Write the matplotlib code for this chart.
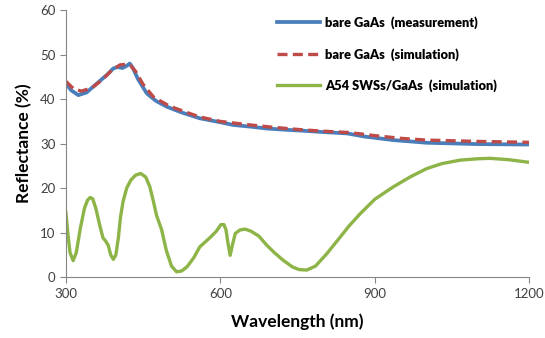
import matplotlib.pyplot as plt

plt.rcParams['font.family'] = ['Lato', 'DejaVu Sans']

# bare GaAs (measurement)
wl_meas = [300, 310, 324, 340, 360, 380, 392, 400, 410, 418, 424, 430, 440, 457, 475,
           496, 525, 560, 600, 625, 660, 690, 730, 761, 800, 846, 880, 936, 1001, 1100, 1200]
r_meas = [43.5, 42.0, 40.9, 41.5, 43.5, 45.5, 46.9, 47.2, 47.0, 47.5, 48.0, 47.0, 44.5,
          41.3, 39.6, 38.3, 37.0, 35.7, 34.8, 34.2, 33.8, 33.4, 33.1, 32.9, 32.6, 32.3,
          31.6, 30.8, 30.2, 29.9, 29.8]

# bare GaAs (simulation)
wl_sim = [300, 315, 330, 350, 370, 390, 405, 415, 425, 435, 450, 470, 500, 530, 560,
          600, 650, 700, 760, 800, 850, 900, 950, 1000, 1100, 1200]
r_sim = [44.0, 42.3, 41.8, 42.5, 44.3, 46.6, 47.7, 47.8, 47.6, 46.3, 43.3, 40.5, 38.5,
         37.2, 36.0, 35.0, 34.3, 33.7, 33.1, 32.8, 32.5, 31.8, 31.2, 30.8, 30.5, 30.3]

# A54 SWSs/GaAs (simulation)
wl_sws = [300, 304, 308, 314, 320, 328, 336, 342, 347, 352, 358, 366, 372, 376, 382,
          387, 392, 397, 402, 406, 411, 418, 426, 435, 445, 455, 463, 470, 476, 486,
          495, 505, 515, 525, 535, 548, 560, 580, 592, 601, 607, 611, 615, 619, 624,
          629, 638, 648, 660, 675, 690, 705, 722, 740, 753, 768, 785, 807, 830, 850,
          872, 900, 936, 970, 1001, 1030, 1066, 1100, 1124, 1160, 1200]
r_sws = [14.5, 9.5, 5.5, 3.7, 5.5, 11.0, 15.5, 17.3, 17.9, 17.6, 15.5, 11.5, 8.8, 8.3,
         7.2, 5.0, 4.0, 5.0, 9.0, 13.5, 17.0, 20.0, 21.8, 22.9, 23.3, 22.5, 20.3, 17.0,
         13.9, 10.6, 6.0, 2.5, 1.2, 1.4, 2.3, 4.3, 6.8, 8.9, 10.3, 11.8, 11.8, 10.6,
         7.5, 4.9, 7.5, 9.8, 10.6, 10.8, 10.3, 9.2, 7.2, 5.5, 3.8, 2.3, 1.7, 1.6, 2.5,
         5.3, 8.6, 11.5, 14.3, 17.5, 20.3, 22.6, 24.4, 25.5, 26.3, 26.6, 26.7, 26.4, 25.8]

fig = plt.figure(figsize=(5.45, 3.38), dpi=100)
ax = fig.add_axes([0.121, 0.180, 0.850, 0.790])

ax.plot(wl_meas, r_meas, color='#4a7ebb', lw=2.7, label='bare GaAs  (measurement)')
ax.plot(wl_sim, r_sim, color='#be4b48', lw=2.4, ls=(0, (3, 1.6)), label='bare GaAs  (simulation)')
ax.plot(wl_sws, r_sws, color='#8db447', lw=2.4, label='A54 SWSs/GaAs  (simulation)')

ax.set_xlim(300, 1200)
ax.set_ylim(0, 60)
ax.set_xticks([300, 600, 900, 1200])
ax.set_yticks(range(0, 61, 10))

for s in ['top', 'right']:
    ax.spines[s].set_visible(False)
for s in ['left', 'bottom']:
    ax.spines[s].set_color('#868686')
ax.tick_params(colors='#868686', labelcolor='#404040', labelsize=9.5, length=4)

ax.set_xlabel('Wavelength (nm)', fontsize=12.5, fontweight='bold', labelpad=10)
ax.set_ylabel('Reflectance (%)', fontsize=12.5, fontweight='bold', labelpad=6)

leg = ax.legend(loc='upper right', bbox_to_anchor=(0.955, 1.02), frameon=False,
                prop={'family': 'Lato', 'size': 9.3, 'weight': 'heavy'}, handlelength=3.3,
                labelspacing=1.45, handletextpad=0.4)

plt.savefig('out.png', dpi=100)
